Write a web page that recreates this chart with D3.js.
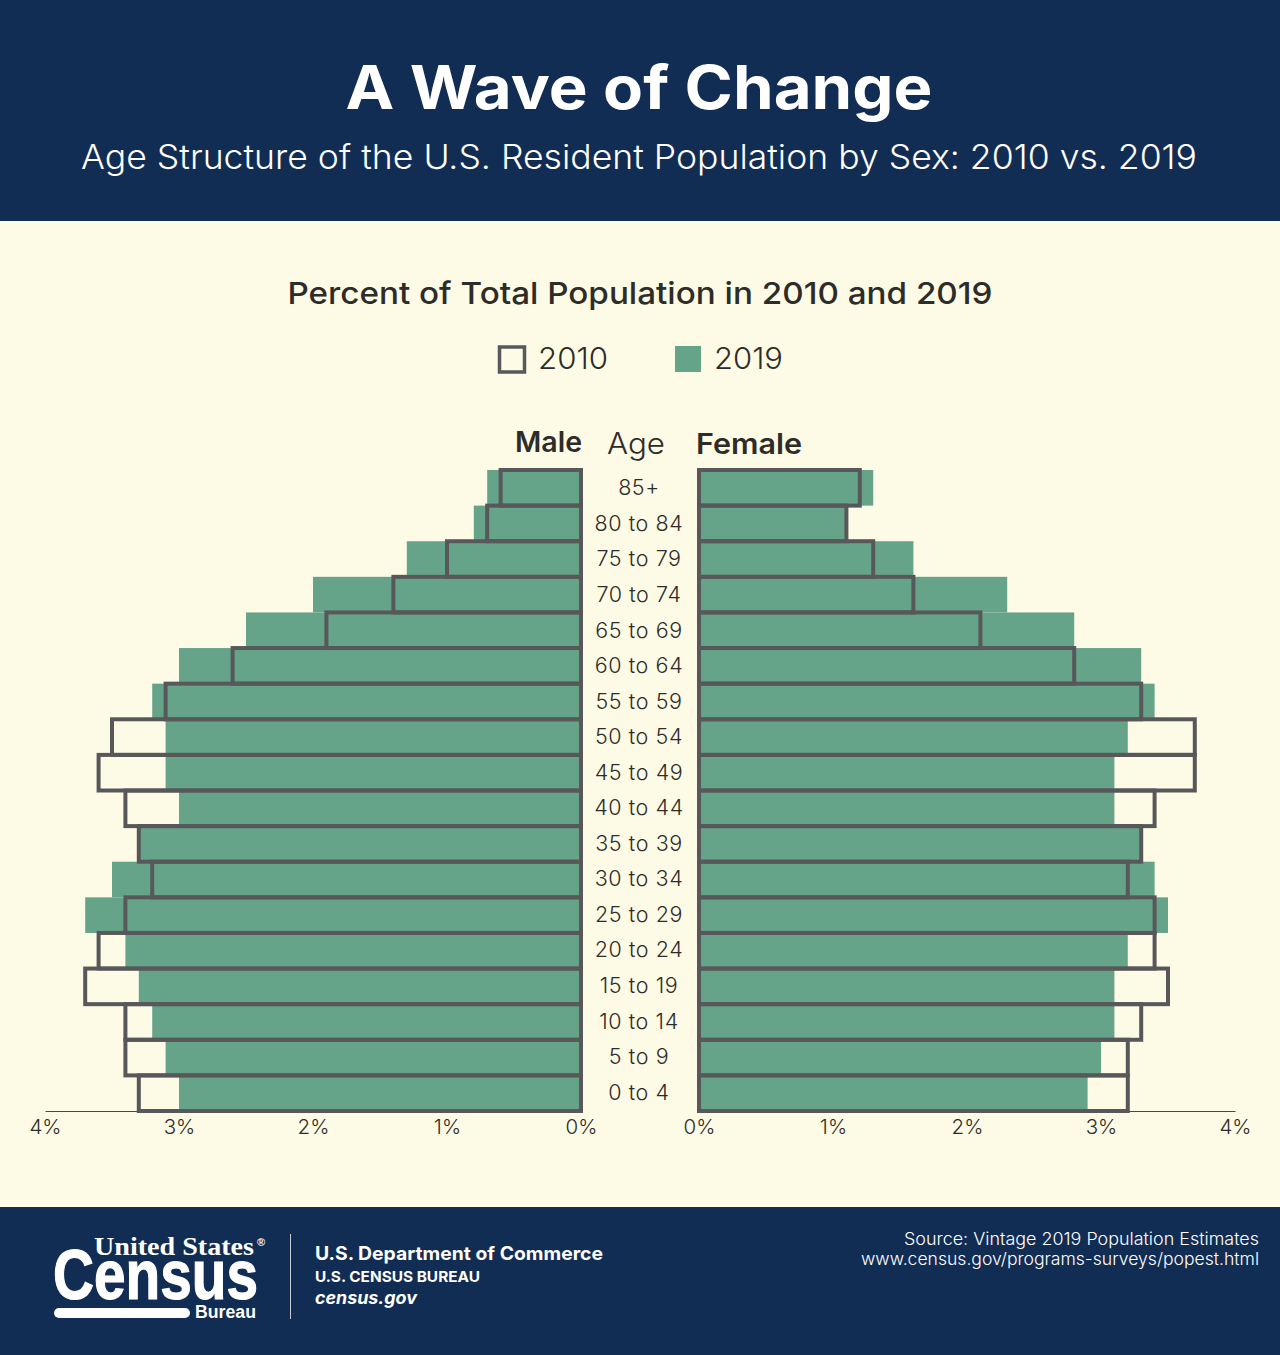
<!DOCTYPE html>
<html>
<head>
<meta charset="utf-8">
<script src="https://cdn.jsdelivr.net/npm/d3@7"></script>
<style>
  html, body { margin: 0; padding: 0; background: #fdfbe6; }
  svg { display: block; }
  text { font-family: Inter, "Noto Sans", sans-serif; }
  .axis .domain { stroke: #4a4a44; stroke-width: 1.2; }
  .axis .tick line { display: none; }
  .axis .tick text { font-size: 20.5px; fill: #2e2c28; font-weight: 300; font-family: Inter, sans-serif; }
</style>
</head>
<body>
<script>
const ages = ['85+', '80 to 84', '75 to 79', '70 to 74', '65 to 69', '60 to 64', '55 to 59', '50 to 54', '45 to 49',
  '40 to 44', '35 to 39', '30 to 34', '25 to 29', '20 to 24', '15 to 19', '10 to 14', '5 to 9', '0 to 4'];
const male2010 = [0.6, 0.7, 1.0, 1.4, 1.9, 2.6, 3.1, 3.5, 3.6, 3.4, 3.3, 3.2, 3.4, 3.6, 3.7, 3.4, 3.4, 3.3];
const male2019 = [0.7, 0.8, 1.3, 2.0, 2.5, 3.0, 3.2, 3.1, 3.1, 3.0, 3.3, 3.5, 3.7, 3.4, 3.3, 3.2, 3.1, 3.0];
const female2010 = [1.2, 1.1, 1.3, 1.6, 2.1, 2.8, 3.3, 3.7, 3.7, 3.4, 3.3, 3.2, 3.4, 3.4, 3.5, 3.3, 3.2, 3.2];
const female2019 = [1.3, 1.1, 1.6, 2.3, 2.8, 3.3, 3.4, 3.2, 3.1, 3.1, 3.3, 3.4, 3.5, 3.2, 3.1, 3.1, 3.0, 2.9];
const ticks = [0, 1, 2, 3, 4];

const navy = '#122d53', green = '#66a48a', outline = '#58585a', ink = '#2e2c28';

const svg = d3.select('body').append('svg').attr('width', 1280).attr('height', 1355);

svg.append('rect').attr('width', 1280).attr('height', 1355).attr('fill', '#fdfbe6');
svg.append('rect').attr('width', 1280).attr('height', 221).attr('fill', navy);
svg.append('rect').attr('y', 1207).attr('width', 1280).attr('height', 148).attr('fill', navy);

// length stretches the glyphs, the fonts here run narrower than the original
function label(x, y, str, size, weight, fill, anchor = 'middle', length = null) {
  const t = svg.append('text').attr('x', x).attr('y', y).text(str)
    .attr('font-size', size).attr('font-weight', weight).attr('fill', fill)
    .attr('text-anchor', anchor);
  if (length) t.attr('textLength', length).attr('lengthAdjust', 'spacingAndGlyphs');
  return t;
}

label(639, 109, 'A Wave of Change', 60, 700, '#fff', 'middle', 587);
label(639, 169, 'Age Structure of the U.S. Resident Population by Sex: 2010 vs. 2019', 33.5, 300, '#fff', 'middle', 1116);
label(640, 304, 'Percent of Total Population in 2010 and 2019', 30.5, 500, ink, 'middle', 705);

// legend
svg.append('rect').attr('x', 499.5).attr('y', 347).attr('width', 25).attr('height', 25)
  .attr('fill', 'none').attr('stroke', outline).attr('stroke-width', 3.5);
label(538, 369, '2010', 29.5, 300, ink, 'start', 70);
svg.append('rect').attr('x', 675).attr('y', 346).attr('width', 26).attr('height', 26).attr('fill', green);
label(714, 369, '2019', 29.5, 300, ink, 'start', 69);

label(582, 452, 'Male', 28, 600, ink, 'end', 67);
label(636, 454, 'Age', 29.5, 300, ink, 'middle', 58);
label(696, 454, 'Female', 28, 600, ink, 'start', 106);

// scales
const y = d3.scaleBand().domain(ages).range([470, 1111]).padding(0);
const xMale = d3.scaleLinear().domain([0, 4]).range([581, 45]);
const xFemale = d3.scaleLinear().domain([0, 4]).range([699, 1235]);

function side(x, v2019, v2010) {
  const g = svg.append('g');
  const x0 = x(0);
  g.selectAll('rect.y2019').data(ages).join('rect')
    .attr('class', 'y2019')
    .attr('x', (d, i) => Math.min(x0, x(v2019[i])))
    .attr('y', d => y(d))
    .attr('width', (d, i) => Math.abs(x(v2019[i]) - x0))
    .attr('height', y.bandwidth())
    .attr('fill', green);
  g.selectAll('rect.y2010').data(ages).join('rect')
    .attr('class', 'y2010')
    .attr('x', (d, i) => Math.min(x0, x(v2010[i])))
    .attr('y', d => y(d))
    .attr('width', (d, i) => Math.abs(x(v2010[i]) - x0))
    .attr('height', y.bandwidth())
    .attr('fill', 'none')
    .attr('stroke', outline)
    .attr('stroke-width', 4);
}

// axes go under the bars
[xMale, xFemale].forEach(x => {
  svg.append('g').attr('class', 'axis')
    .attr('transform', 'translate(0,1111)')
    .call(d3.axisBottom(x).tickValues(ticks).tickFormat(d => d + '%').tickSize(0).tickPadding(8));
});

side(xMale, male2019, male2010);
side(xFemale, female2019, female2010);

svg.append('g').selectAll('text').data(ages).join('text')
  .attr('x', 639)
  .attr('y', (d, i) => y(d) + y.bandwidth() / 2 + 7.5 - i * 0.06)
  .attr('text-anchor', 'middle')
  .attr('font-size', 21.5)
  .attr('font-weight', 300)
  .attr('letter-spacing', 0.6)
  .attr('fill', ink)
  .text(d => d);

// footer: logo
const logo = svg.append('g');
logo.append('text').attr('x', 94).attr('y', 1255).text('United States')
  .attr('font-size', 26).attr('font-weight', 700).attr('fill', '#fff')
  .style('font-family', '"Liberation Serif", serif').attr('textLength', 160).attr('lengthAdjust', 'spacingAndGlyphs');
logo.append('text').attr('x', 257).attr('y', 1246).text('®')
  .attr('font-size', 11).attr('font-weight', 700).attr('fill', '#fff').style('font-family', '"Liberation Sans", sans-serif');
logo.append('text').attr('x', 53).attr('y', 1299).text('Census')
  .attr('font-size', 70).attr('font-weight', 700).attr('fill', '#fff')
  .attr('stroke', '#fff').attr('stroke-width', 1.2)
  .style('font-family', '"Liberation Sans Narrow", "Liberation Sans", sans-serif')
  .attr('textLength', 205).attr('lengthAdjust', 'spacingAndGlyphs');
logo.append('rect').attr('x', 54).attr('y', 1308).attr('width', 136).attr('height', 10).attr('rx', 5).attr('fill', '#fff');
logo.append('text').attr('x', 195).attr('y', 1318).text('Bureau')
  .attr('font-size', 18).attr('font-weight', 700).attr('fill', '#fff')
  .style('font-family', '"Liberation Sans Narrow", "Liberation Sans", sans-serif')
  .attr('textLength', 61).attr('lengthAdjust', 'spacingAndGlyphs');
svg.append('rect').attr('x', 290).attr('y', 1234).attr('width', 1).attr('height', 85).attr('fill', '#c8ccd4');

label(315, 1260, 'U.S. Department of Commerce', 18.5, 700, '#fff', 'start', 288);
label(315, 1282, 'U.S. CENSUS BUREAU', 14.5, 700, '#fff', 'start', 165);
label(315, 1304, 'census.gov', 17, 700, '#fff', 'start', 102).attr('font-style', 'italic');

label(1259, 1245, 'Source: Vintage 2019 Population Estimates', 17, 300, '#fff', 'end', 355);
label(1259, 1265, 'www.census.gov/programs-surveys/popest.html', 17, 300, '#fff', 'end', 398);
</script>
</body>
</html>
